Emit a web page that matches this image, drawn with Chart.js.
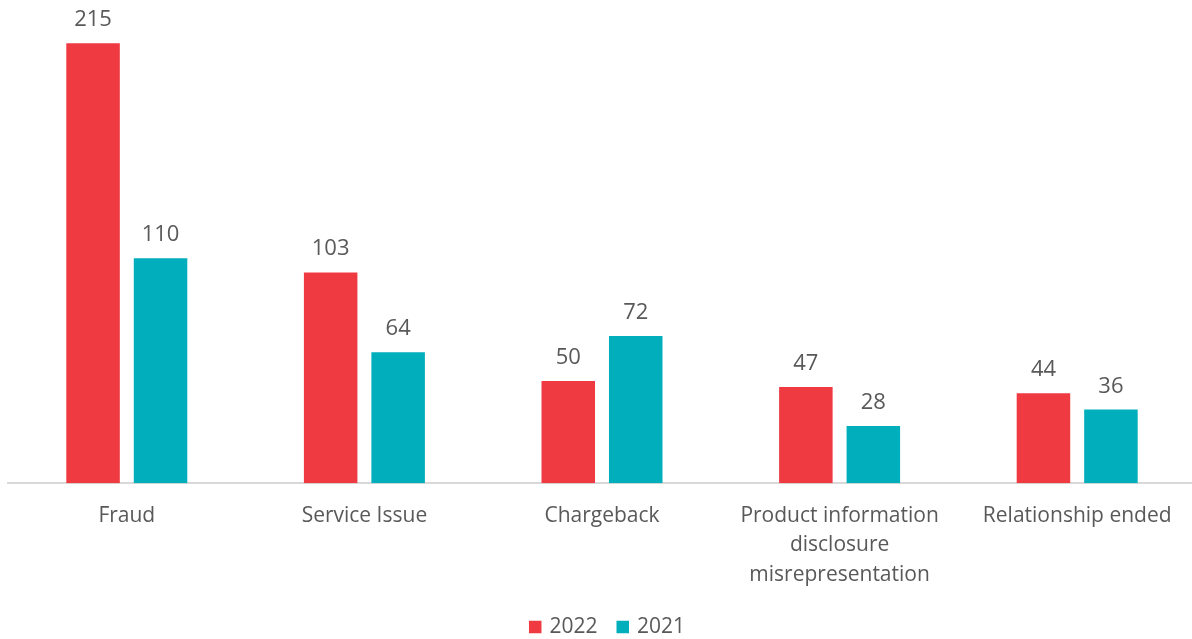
<!DOCTYPE html>
<html>
<head>
<meta charset="utf-8">
<script src="https://cdn.jsdelivr.net/npm/chart.js@4/dist/chart.umd.min.js"></script>
<style>
  html, body { margin: 0; padding: 0; background: #fff; overflow: hidden; }
  #wrap { width: 1196px; height: 639px; }
</style>
</head>
<body>
<div id="wrap"><canvas id="grafica"></canvas></div>
<script>
const categorias = [
  'Fraud',
  'Service Issue',
  'Chargeback',
  ['Product information', 'disclosure', 'misrepresentation'],
  'Relationship ended'
];
const serie2022 = [215, 103, 50, 47, 44];
const serie2021 = [110, 64, 72, 28, 36];
const rojo = '#EF3A42';
const turquesa = '#00AEBC';
const gris = '#595959';
const fuente = "'Open Sans', 'Noto Sans', sans-serif";

// valores encima de cada barra
const etiquetas = {
  id: 'etiquetas',
  afterDatasetsDraw(chart) {
    const ctx = chart.ctx;
    ctx.save();
    ctx.fillStyle = gris;
    ctx.font = '22px ' + fuente;
    ctx.textAlign = 'center';
    ctx.textBaseline = 'alphabetic';
    chart.data.datasets.forEach((ds, i) => {
      chart.getDatasetMeta(i).data.forEach((bar, j) => {
        ctx.fillText(ds.data[j], bar.x, bar.y - 17);
      });
    });
    ctx.restore();
  }
};

// leyenda abajo, cuadrito pegado al texto
const leyenda = {
  id: 'leyenda',
  afterDraw(chart) {
    const ctx = chart.ctx;
    const caja = 12.5, hueco = 8, separacion = 19;
    const y = chart.height - 12;
    ctx.save();
    ctx.font = '21px ' + fuente;
    ctx.textBaseline = 'middle';
    const items = chart.data.datasets.map(ds => ({ txt: ds.label, color: ds.backgroundColor, w: ctx.measureText(ds.label).width }));
    let total = 0;
    items.forEach((it, i) => { total += caja + hueco + it.w + (i ? separacion : 0); });
    let x = chart.width / 2 + 9 - total / 2;
    items.forEach(it => {
      ctx.fillStyle = it.color;
      ctx.fillRect(x, y - caja / 2, caja, caja);
      x += caja + hueco;
      ctx.fillStyle = gris;
      ctx.fillText(it.txt, x, y);
      x += it.w + separacion;
    });
    ctx.restore();
  }
};

new Chart(document.getElementById('grafica'), {
  type: 'bar',
  data: {
    labels: categorias,
    datasets: [
      { label: '2022', data: serie2022, backgroundColor: rojo },
      { label: '2021', data: serie2021, backgroundColor: turquesa }
    ]
  },
  options: {
    responsive: true,
    maintainAspectRatio: false,
    animation: false,
    layout: { padding: { top: 33, left: 8, right: 0, bottom: 31.5 } },
    datasets: {
      bar: { barPercentage: 0.793, categoryPercentage: 0.568 }
    },
    scales: {
      x: {
        grid: { display: false, drawTicks: false },
        border: { display: true, color: '#d9d9d9', width: 2 },
        ticks: { color: gris, font: { family: fuente, size: 21, lineHeight: 1.4 }, padding: 18, maxRotation: 0, autoSkip: false }
      },
      y: {
        display: false,
        min: 0,
        max: 220
      }
    },
    plugins: {
      legend: { display: false },
      tooltip: { enabled: false }
    }
  },
  plugins: [etiquetas, leyenda]
});
</script>
</body>
</html>
